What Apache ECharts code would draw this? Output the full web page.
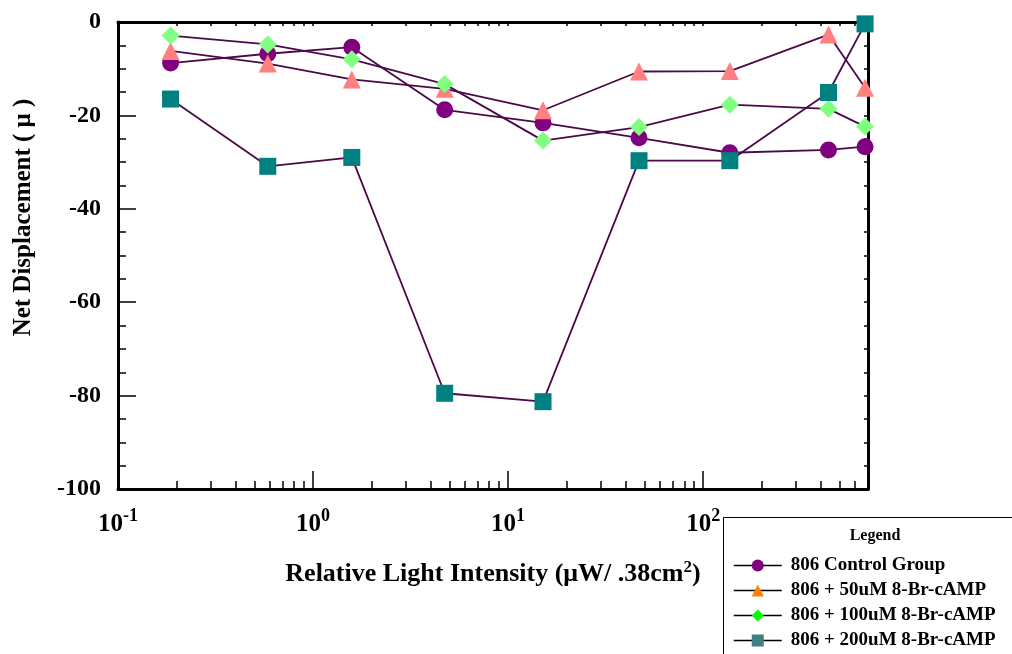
<!DOCTYPE html>
<html>
<head>
<meta charset="utf-8">
<script src="https://cdn.jsdelivr.net/npm/echarts@6/dist/echarts.min.js"></script>
<style>html,body{margin:0;padding:0;background:#fff}#c{width:1012px;height:654px}</style>
</head>
<body>
<div id="c"></div>
<script>
// ---- data ----
var intensity = [0.186, 0.586, 1.58, 4.73, 15.1, 46.9, 137, 439, 676];
var seriesNames = ['806 Control Group', '806 + 50uM 8-Br-cAMP', '806 + 100uM 8-Br-cAMP', '806 + 200uM 8-Br-cAMP'];
var control  = [-8.8, -6.8, -5.4, -18.8, -21.6, -24.8, -28.0, -27.4, -26.7];
var camp50   = [-6.2, -8.9, -12.3, -14.3, -18.9, -10.6, -10.5, -2.7, -14.1];
var camp100  = [-2.9, -4.8, -8.0, -13.3, -25.4, -22.5, -17.7, -18.6, -22.4];
var camp200  = [-16.5, -30.9, -29.0, -79.5, -81.3, -29.7, -29.7, -15.1, -0.4];
var yTicks = [0, -20, -40, -60, -80, -100];
var xMin = 0.1, xMax = 700;

// ---- styles ----
var FONT = "'Liberation Serif', 'Times New Roman', serif";
var LINE = '#4a0a48';
var symbols = ['circle', 'triangle', 'diamond', 'rect'];
var markerColors = ['#800080', '#ff8080', '#80ff80', '#008080'];
var legendColors = ['#800080', '#ff8000', '#00ff00', '#408080'];
var symbolSizes = [17, 18, 18, 17];
var allData = [control, camp50, camp100, camp200];

function pairs(ys) { return intensity.map(function (x, i) { return [x, ys[i]]; }); }

// minor tick positions in log10 space (2..9 of each decade)
var minorLog = [], allLog = [];
var lmin = Math.log10(xMin), lmax = Math.log10(xMax);
for (var d = -1; d <= 2; d++) {
  for (var k = 1; k <= 9; k++) {
    var v = Math.log10(k) + d;
    if (v > lmax + 1e-9) continue;
    if (k > 1) minorLog.push(v);
    allLog.push(v);
  }
}

var series = seriesNames.map(function (n, i) {
  return {
    name: n, type: 'line', xAxisIndex: 0, yAxisIndex: 0,
    data: pairs(allData[i]),
    symbol: symbols[i], symbolSize: symbolSizes[i],
    itemStyle: { color: markerColors[i] },
    lineStyle: { color: LINE, width: 1.8 },
    z: 2 + i
  };
});

var chart = echarts.init(document.getElementById('c'), null, { renderer: 'canvas' });
chart.setOption({
  animation: false,
  backgroundColor: '#fff',
  grid: { left: 118, right: 144, top: 22, bottom: 165 },
  xAxis: [
    {
      type: 'log', logBase: 10, min: xMin, max: xMax, position: 'bottom',
      axisLine: { onZero: false, lineStyle: { color: '#000', width: 3 } },
      axisTick: { inside: true, length: 18, lineStyle: { color: '#000', width: 1.5 } },
      splitLine: { show: false },
      axisLabel: {
        margin: 18, color: '#000',
        formatter: function (v) {
          var e = Math.round(Math.log10(v));
          if (Math.abs(v - Math.pow(10, e)) / v > 1e-6) return '';
          return '{b|10}{s|' + e + '}';
        },
        rich: {
          b: { fontFamily: FONT, fontWeight: 'bold', fontSize: 25, color: '#000', verticalAlign: 'bottom', lineHeight: 30 },
          s: { fontFamily: FONT, fontWeight: 'bold', fontSize: 18, color: '#000', verticalAlign: 'top', lineHeight: 30 }
        }
      },
      name: 'Relative Light Intensity (μW/ .38cm{sup|2})',
      nameLocation: 'middle', nameGap: 70,
      nameTextStyle: {
        fontFamily: FONT, fontWeight: 'bold', fontSize: 26, color: '#000',
        rich: { sup: { fontFamily: FONT, fontWeight: 'bold', fontSize: 17, color: '#000', verticalAlign: 'top', lineHeight: 30 } }
      }
    },
    {
      type: 'value', min: lmin, max: lmax, position: 'bottom', gridIndex: 0,
      axisLine: { show: false, onZero: false },
      axisLabel: { show: false },
      splitLine: { show: false },
      axisTick: { show: true, inside: true, length: 8, customValues: minorLog, lineStyle: { color: '#000', width: 1.5 } }
    },
    {
      type: 'value', min: lmin, max: lmax, position: 'top', gridIndex: 0,
      axisLine: { show: true, onZero: false, lineStyle: { color: '#000', width: 3 } },
      axisLabel: { show: false },
      splitLine: { show: false },
      axisTick: { show: true, inside: true, length: 4, customValues: allLog, lineStyle: { color: '#000', width: 1.5 } }
    }
  ],
  yAxis: [
    {
      type: 'value', min: -100, max: 0, interval: 20, position: 'left',
      axisLine: { show: true, onZero: false, lineStyle: { color: '#000', width: 3 } },
      axisTick: { inside: true, length: 18, lineStyle: { color: '#000', width: 1.5 } },
      minorTick: { show: true, splitNumber: 4, length: 8, lineStyle: { color: '#000', width: 1.5 } },
      splitLine: { show: false },
      axisLabel: {
        margin: 17, color: '#000', fontFamily: FONT, fontWeight: 'bold', fontSize: 24,
        customValues: yTicks
      },
      name: 'Net Displacement ( μ )',
      nameLocation: 'middle', nameGap: 82,
      nameTextStyle: { fontFamily: FONT, fontWeight: 'bold', fontSize: 25, color: '#000', padding: [0, 0, 0, 76] }
    },
    {
      type: 'value', min: -100, max: 0, interval: 5, position: 'right',
      axisLine: { show: true, onZero: false, lineStyle: { color: '#000', width: 3 } },
      axisTick: { inside: true, length: 4, lineStyle: { color: '#000', width: 1.5 } },
      splitLine: { show: false },
      axisLabel: { show: false }
    }
  ],
  legend: {
    orient: 'vertical', left: 733, top: 556, padding: 0,
    itemWidth: 48, itemHeight: 15, itemGap: 6,
    textStyle: { fontFamily: FONT, fontWeight: 'bold', fontSize: 19, color: '#000', padding: [0, 0, 0, 4] },
    data: seriesNames.map(function (n, i) {
      return { name: n, itemStyle: { color: legendColors[i] }, lineStyle: { color: '#000', width: 1.5 } };
    })
  },
  graphic: [
    { type: 'rect', z: -1, shape: { x: 723.5, y: 517.5, width: 320, height: 200 },
      style: { fill: '#fff', stroke: '#000', lineWidth: 1 } },
    { type: 'text', z: 1, x: 875, y: 536,
      style: { text: 'Legend', fill: '#000', font: "bold 16px 'Liberation Serif', serif", textAlign: 'center', textVerticalAlign: 'middle' } }
  ],
  series: series
});
</script>
</body>
</html>
